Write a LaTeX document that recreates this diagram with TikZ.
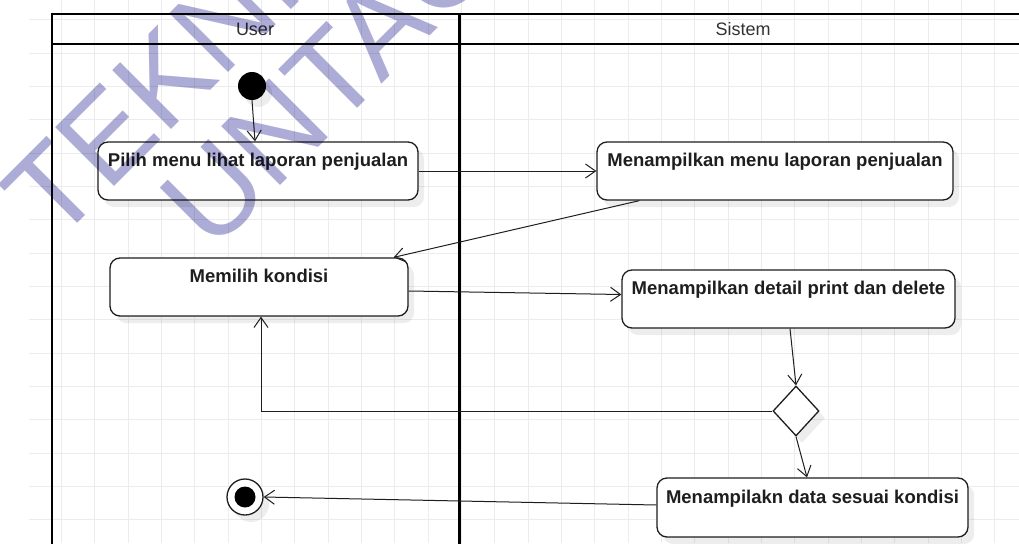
\documentclass[tikz,border=0pt]{standalone}
\usepackage{fontspec}
\setmainfont{Liberation Sans}
\usetikzlibrary{arrows.meta,shapes.geometric,shadows}
\definecolor{gridc}{RGB}{236,236,236}
\definecolor{wm}{RGB}{172,172,214}
\definecolor{ink}{RGB}{30,30,30}
\tikzset{
  act/.style={draw=ink, line width=1.3pt, fill=white, rounded corners=10pt,
    inner xsep=0pt, inner ysep=0pt, text height=24pt, text depth=34pt,
    font=\bfseries\fontsize{18.5}{20}\selectfont, text=ink,
    drop shadow={shadow xshift=6pt, shadow yshift=-7pt, fill=black, opacity=0.07}},
  flow/.style={draw=ink, line width=1pt, -{Straight Barb[length=10pt,width=14pt,line width=1pt]}},
  lane/.style={line width=2.6pt, draw=black},
  hdr/.style={font=\fontsize{18}{20}\selectfont, text=black!80, inner sep=0pt},
  wmtext/.style={text=wm, font=\fontsize{121}{130}\selectfont, rotate=45, anchor=base west, inner sep=0pt},
  gridline/.style={draw=gridc, line width=1pt}
}
\begin{document}
\begin{tikzpicture}[x=1pt,y=-1pt]
\useasboundingbox (0,0) rectangle (1019,543);
\fill[white] (0,0) rectangle (1019,543);
% grid
\foreach \i in {1,...,29} \draw[gridline] ({28.3+33.33*\i},0) -- ({28.3+33.33*\i},543);
\foreach \j in {0,...,15} \draw[gridline] (29,{20+33.33*\j}) -- (1019,{20+33.33*\j});
% pool
\draw[lane] (52,14) -- (1021,14);
\draw[lane, line width=2.4pt] (52,44) -- (1021,44);
\draw[lane] (52,12.7) -- (52,545);
\draw[lane, line width=3pt] (459,12.7) -- (459,545);
\node[hdr] (huser) at (255,29) {User};
\node[hdr] (hsis) at (743,29) {Sistem};
% nodes
\node[circle, fill=black, minimum size=28pt, inner sep=0pt,
  drop shadow={shadow xshift=6pt, shadow yshift=-7pt, fill=black, opacity=0.07}] (start) at (252,86) {};
\node[act, minimum width=320pt] (b1) at (258,171) {Pilih menu lihat laporan penjualan};
\node[act, minimum width=356pt] (b2) at (775,171) {Menampilkan menu laporan penjualan};
\node[act, minimum width=298pt] (b3) at (259,287) {Memilih kondisi};
\node[act, minimum width=333pt] (b4) at (788.5,299) {Menampilkan detail print dan delete};
\node[act, minimum width=311pt, text height=25pt] (b5) at (812.5,507.5) {Menampilakn data sesuai kondisi};
\node[diamond, draw=ink, line width=1.3pt, fill=white, minimum width=46pt, minimum height=50pt, inner sep=0pt,
  drop shadow={shadow xshift=6pt, shadow yshift=-7pt, fill=black, opacity=0.07}] (dia) at (796,411) {};
\node[circle, draw=ink, line width=1.3pt, fill=white, minimum size=36pt, inner sep=0pt,
  drop shadow={shadow xshift=6pt, shadow yshift=-7pt, fill=black, opacity=0.07}] (fin) at (245,497) {};
\node[circle, fill=black, minimum size=21pt, inner sep=0pt] (finin) at (fin.center) {};
% connectors
\draw[flow] (start.south) -- ([xshift=-3pt]b1.north);
\draw[flow] (b1.east) -- (b2.west);
\draw[flow] ([xshift=43pt]b2.south west) -- ([xshift=-15pt]b3.north east);
\draw[flow] ([yshift=-4pt]b3.east) -- ([yshift=4.5pt]b4.west);
\draw[flow] ([xshift=1.5pt]b4.south) -- (dia.north);
\draw[flow] (dia.west) -| ([xshift=2pt]b3.south);
\draw[flow] (dia.south) -- ([xshift=-5.5pt]b5.north);
\draw[flow] ([yshift=2.5pt]b5.west) -- (fin.east);
% watermark
\begin{scope}[blend mode=multiply]
\node[wmtext] (wm1) at (55,246) {TEKNIK};
\node[wmtext] (wm2) at (212,254) {UNTAG};
\end{scope}
\end{tikzpicture}
\end{document}
